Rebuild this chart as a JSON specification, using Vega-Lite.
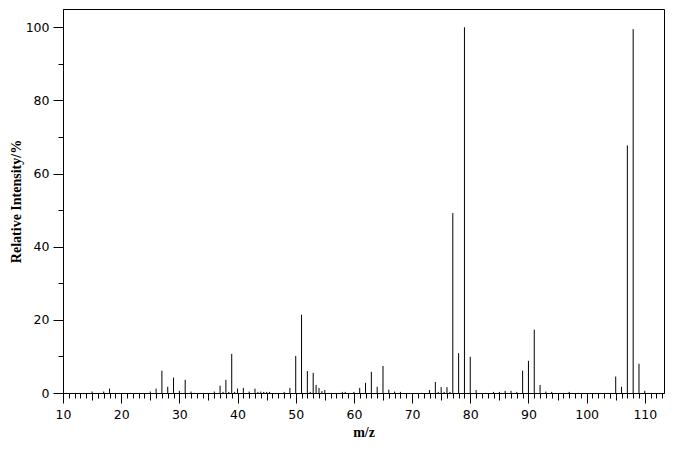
{
  "$schema": "https://vega.github.io/schema/vega-lite/v6.json",
  "width": 601,
  "height": 384,
  "autosize": {"type": "none"},
  "padding": {"left": 63, "top": 9, "right": 12, "bottom": 62},
  "background": "white",
  "config": {
    "view": {"stroke": "black", "strokeWidth": 1},
    "axis": {
      "grid": false,
      "domainColor": "black",
      "tickColor": "black",
      "labelColor": "black",
      "labelFont": "DejaVu Sans",
      "labelFontSize": 12.5,
      "titleFont": "Liberation Serif",
      "titleFontWeight": "bold",
      "titleFontSize": 14,
      "titleColor": "black",
      "labelOverlap": false,
      "labelFlush": false
    }
  },
  "data": {
    "values": [
      {"mz": 15, "intensity": 0.4},
      {"mz": 17, "intensity": 0.4},
      {"mz": 18, "intensity": 1.2},
      {"mz": 25, "intensity": 0.4},
      {"mz": 26, "intensity": 1.2},
      {"mz": 27, "intensity": 6.1},
      {"mz": 28, "intensity": 1.7},
      {"mz": 29, "intensity": 4.2},
      {"mz": 30, "intensity": 0.6},
      {"mz": 31, "intensity": 3.6},
      {"mz": 32, "intensity": 0.4},
      {"mz": 36, "intensity": 0.4},
      {"mz": 37, "intensity": 2.0},
      {"mz": 37.5, "intensity": 0.3},
      {"mz": 38, "intensity": 3.6},
      {"mz": 38.5, "intensity": 0.3},
      {"mz": 39, "intensity": 10.7},
      {"mz": 39.5, "intensity": 0.3},
      {"mz": 40, "intensity": 1.2},
      {"mz": 41, "intensity": 1.4},
      {"mz": 42, "intensity": 0.4},
      {"mz": 43, "intensity": 1.2},
      {"mz": 43.5, "intensity": 0.3},
      {"mz": 44, "intensity": 0.4},
      {"mz": 44.5, "intensity": 0.3},
      {"mz": 45, "intensity": 0.3},
      {"mz": 45.5, "intensity": 0.3},
      {"mz": 48, "intensity": 0.3},
      {"mz": 49, "intensity": 1.4},
      {"mz": 50, "intensity": 10.1},
      {"mz": 51, "intensity": 21.4},
      {"mz": 52, "intensity": 6.0},
      {"mz": 52.5, "intensity": 0.3},
      {"mz": 53, "intensity": 5.5},
      {"mz": 53.5, "intensity": 2.2},
      {"mz": 54, "intensity": 1.4},
      {"mz": 54.5, "intensity": 0.5},
      {"mz": 55, "intensity": 0.8},
      {"mz": 58, "intensity": 0.3},
      {"mz": 58.5, "intensity": 0.3},
      {"mz": 60, "intensity": 0.3},
      {"mz": 61, "intensity": 1.4},
      {"mz": 62, "intensity": 2.8},
      {"mz": 63, "intensity": 5.8},
      {"mz": 64, "intensity": 1.7},
      {"mz": 65, "intensity": 7.4},
      {"mz": 66, "intensity": 0.9},
      {"mz": 67, "intensity": 0.4},
      {"mz": 68, "intensity": 0.3},
      {"mz": 73, "intensity": 0.8},
      {"mz": 74, "intensity": 3.0},
      {"mz": 74.5, "intensity": 0.3},
      {"mz": 75, "intensity": 1.6},
      {"mz": 75.5, "intensity": 0.3},
      {"mz": 76, "intensity": 1.6},
      {"mz": 76.5, "intensity": 0.3},
      {"mz": 77, "intensity": 49.2},
      {"mz": 78, "intensity": 10.9},
      {"mz": 79, "intensity": 100},
      {"mz": 80, "intensity": 9.9},
      {"mz": 81, "intensity": 0.8},
      {"mz": 84, "intensity": 0.3},
      {"mz": 85, "intensity": 0.3},
      {"mz": 86, "intensity": 0.6},
      {"mz": 87, "intensity": 0.6},
      {"mz": 88, "intensity": 0.3},
      {"mz": 89, "intensity": 6.1},
      {"mz": 90, "intensity": 8.8},
      {"mz": 91, "intensity": 17.3},
      {"mz": 92, "intensity": 2.2},
      {"mz": 93, "intensity": 0.4},
      {"mz": 94, "intensity": 0.3},
      {"mz": 97, "intensity": 0.3},
      {"mz": 105, "intensity": 4.5},
      {"mz": 106, "intensity": 1.7},
      {"mz": 107, "intensity": 67.7},
      {"mz": 108, "intensity": 99.5},
      {"mz": 109, "intensity": 8.0},
      {"mz": 110, "intensity": 0.6}
    ]
  },
  "mark": {"type": "rule", "color": "black", "strokeWidth": 1},
  "encoding": {
    "x": {
      "field": "mz",
      "type": "quantitative",
      "scale": {"domain": [10, 113.3], "nice": false, "zero": false},
      "axis": {
        "title": "m/z",
        "values": [10,11,12,13,14,15,16,17,18,19,20,21,22,23,24,25,26,27,28,29,30,31,32,33,34,35,36,37,38,39,40,41,42,43,44,45,46,47,48,49,50,51,52,53,54,55,56,57,58,59,60,61,62,63,64,65,66,67,68,69,70,71,72,73,74,75,76,77,78,79,80,81,82,83,84,85,86,87,88,89,90,91,92,93,94,95,96,97,98,99,100,101,102,103,104,105,106,107,108,109,110,111,112,113],
        "labelExpr": "datum.value % 10 === 0 ? datum.label : ''",
        "tickSize": {"condition": [{"test": "datum.value % 10 === 0", "value": 10}, {"test": "datum.value % 5 === 0", "value": 7}], "value": 5},
        "labelPadding": 5,
        "titlePadding": 5
      }
    },
    "y": {
      "field": "intensity",
      "type": "quantitative",
      "scale": {"domain": [0, 105], "nice": false},
      "axis": {
        "title": "Relative Intensity/%",
        "values": [0,10,20,30,40,50,60,70,80,90,100],
        "labelExpr": "datum.value % 20 === 0 ? datum.label : ''",
        "tickSize": {"condition": {"test": "datum.value % 20 === 0", "value": 10}, "value": 5},
        "labelPadding": 4,
        "titlePadding": 2
      }
    },
    "y2": {"datum": 0}
  }
}
